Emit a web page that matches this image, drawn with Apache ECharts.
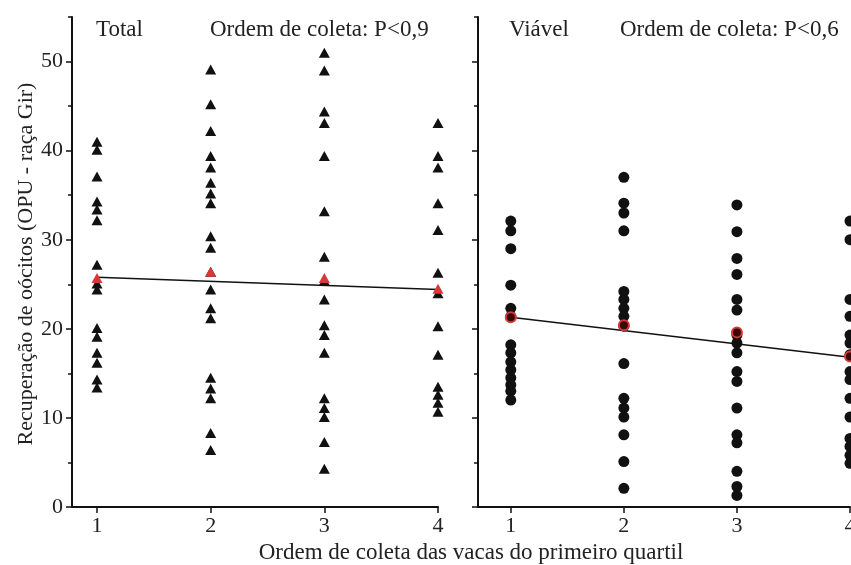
<!DOCTYPE html>
<html><head><meta charset="utf-8">
<script src="https://cdn.jsdelivr.net/npm/echarts@6/dist/echarts.min.js"></script>
<style>html,body{margin:0;padding:0;background:#fff}#c{width:851px;height:565px}</style>
</head><body><div id="c"></div>
<script>
// Data
const xTicks = [1, 2, 3, 4];
const yTicks = [0, 10, 20, 30, 40, 50];
const yMinorTicks = [5, 15, 25, 35, 45, 55];

const total1 = [41.0, 40.1, 37.1, 34.3, 33.4, 32.2, 27.2, 25.1, 24.4, 20.1, 19.1, 17.3, 16.2, 14.3, 13.4];
const total2 = [49.1, 45.2, 42.2, 39.4, 38.1, 36.4, 35.2, 34.1, 30.4, 29.1, 26.4, 24.4, 22.3, 21.2, 14.5, 13.3, 12.2, 8.3, 6.4];
const total3 = [51.0, 49.0, 44.4, 43.1, 39.4, 33.2, 28.1, 25.4, 23.3, 20.4, 19.3, 17.3, 12.2, 11.1, 10.1, 7.3, 4.3];
const total4 = [43.1, 39.4, 38.1, 34.1, 31.1, 26.3, 24.0, 20.3, 17.1, 13.5, 12.6, 11.7, 10.7];
const totalMeans = [25.7, 26.4, 25.7, 24.5];
const totalFit = [25.8, 24.4]; // at x=1 and x=4

const viavel1 = [32.1, 31.0, 29.0, 24.9, 22.3, 21.4, 18.2, 17.3, 16.3, 15.4, 14.5, 13.7, 13.0, 12.0];
const viavel2 = [37.0, 34.1, 33.0, 31.0, 24.2, 23.3, 22.3, 21.4, 20.3, 16.1, 12.2, 11.1, 10.1, 8.1, 5.1, 2.1];
const viavel3 = [33.9, 30.9, 27.9, 26.1, 23.3, 22.1, 19.3, 18.4, 17.3, 15.2, 14.1, 11.1, 8.1, 7.2, 4.0, 2.3, 1.3];
const viavel4 = [32.1, 30.0, 23.3, 21.4, 19.3, 18.4, 17.1, 15.2, 14.3, 12.2, 10.1, 7.7, 6.8, 5.8, 4.9];
const viavelMeans = [21.3, 20.4, 19.6, 16.9];
const viavelFit = [21.3, 16.8];

const panelLabels = ['Total', 'Viável'];
const pLabels = ['Ordem de coleta: P<0,9', 'Ordem de coleta: P<0,6'];
const xTitle = 'Ordem de coleta das vacas do primeiro quartil';
const yTitle = 'Recuperação de oócitos (OPU - raça Gir)';

const FONT = '"Liberation Serif", "Times New Roman", serif';
const INK = '#111';
const TXT = '#222';
const RED = '#d8383a';

function pts(x, arr) { return arr.map(v => [x, v]); }
const totalCols = [total1, total2, total3, total4];
const viavelCols = [viavel1, viavel2, viavel3, viavel4];
const totalPts = [].concat(...totalCols.map((a, i) => pts(xTicks[i], a)));
const viavelPts = [].concat(...viavelCols.map((a, i) => pts(xTicks[i], a)));

function xAx(grid, min) {
  return {
    type: 'value', gridIndex: grid, min: min, max: 4,
    axisLine: { show: true, lineStyle: { color: INK, width: 2 } },
    axisTick: { show: true, customValues: xTicks, length: 6, lineStyle: { color: INK, width: 1.5 } },
    axisLabel: { show: true, customValues: xTicks, color: TXT, fontFamily: FONT, fontSize: 22, margin: 8 },
    splitLine: { show: false }
  };
}
function yAx(grid, labels) {
  return {
    type: 'value', gridIndex: grid, min: 0, max: 55, position: 'left',
    axisLine: { show: true, lineStyle: { color: INK, width: 2 } },
    axisTick: { show: true, customValues: yTicks, length: 6, lineStyle: { color: INK, width: 1.5 } },
    axisLabel: { show: labels, customValues: yTicks, color: TXT, fontFamily: FONT, fontSize: 22, margin: 9 },
    splitLine: { show: false }
  };
}
function yMinor(grid) {
  return {
    type: 'value', gridIndex: grid, min: 0, max: 55, position: 'left',
    axisLine: { show: false },
    axisTick: { show: true, customValues: yMinorTicks, length: 4, lineStyle: { color: INK, width: 1.5 } },
    axisLabel: { show: false },
    splitLine: { show: false }
  };
}

const option = {
  backgroundColor: '#fff',
  animation: false,
  grid: [
    { left: 72, right: 413, top: 17, bottom: 58, outerBoundsMode: 'none', containLabel: false },
    { left: 478, right: 1, top: 17, bottom: 58, outerBoundsMode: 'none', containLabel: false }
  ],
  xAxis: [xAx(0, 0.78), xAx(1, 0.71)],
  yAxis: [yAx(0, true), yAx(1, false), yMinor(0), yMinor(1)],
  series: [
    { type: 'line', xAxisIndex: 0, yAxisIndex: 0, data: [[1, totalFit[0]], [4, totalFit[1]]], symbol: 'none',
      lineStyle: { color: INK, width: 1.5 }, z: 3 },
    { type: 'scatter', xAxisIndex: 0, yAxisIndex: 0, data: totalPts, symbol: 'triangle', symbolSize: [11, 10],
      itemStyle: { color: INK, opacity: 1 }, z: 2 },
    { type: 'scatter', xAxisIndex: 0, yAxisIndex: 0, data: totalMeans.map((v, i) => [xTicks[i], v]),
      symbol: 'triangle', symbolSize: [11, 10], itemStyle: { color: RED, opacity: 1 }, z: 4 },
    { type: 'line', xAxisIndex: 1, yAxisIndex: 1, data: [[1, viavelFit[0]], [4, viavelFit[1]]], symbol: 'none',
      lineStyle: { color: INK, width: 1.5 }, z: 3 },
    { type: 'scatter', xAxisIndex: 1, yAxisIndex: 1, data: viavelPts, symbol: 'circle', symbolSize: 11,
      itemStyle: { color: INK, opacity: 1 }, z: 2 },
    { type: 'scatter', xAxisIndex: 1, yAxisIndex: 1, data: viavelMeans.map((v, i) => [xTicks[i], v]),
      symbol: 'circle', symbolSize: 10, itemStyle: { color: '#3a0808', borderColor: RED, borderWidth: 2, opacity: 1 }, z: 4 }
  ],
  graphic: [
    { type: 'text', left: 96, top: 18, style: { text: panelLabels[0], font: '23px ' + FONT, fill: TXT } },
    { type: 'text', left: 210, top: 18, style: { text: pLabels[0], font: '23px ' + FONT, fill: TXT } },
    { type: 'text', left: 509, top: 18, style: { text: panelLabels[1], font: '23px ' + FONT, fill: TXT } },
    { type: 'text', left: 620, top: 18, style: { text: pLabels[1], font: '23px ' + FONT, fill: TXT } },
    { type: 'text', x: 471, y: 553, style: { text: xTitle, font: '23px ' + FONT, fill: TXT, align: 'center', verticalAlign: 'middle' } },
    { type: 'text', x: 26, y: 264, rotation: Math.PI / 2, style: { text: yTitle, font: '22px ' + FONT, fill: TXT, align: 'center', verticalAlign: 'middle' } }
  ]
};
echarts.init(document.getElementById('c')).setOption(option);
</script></body></html>
